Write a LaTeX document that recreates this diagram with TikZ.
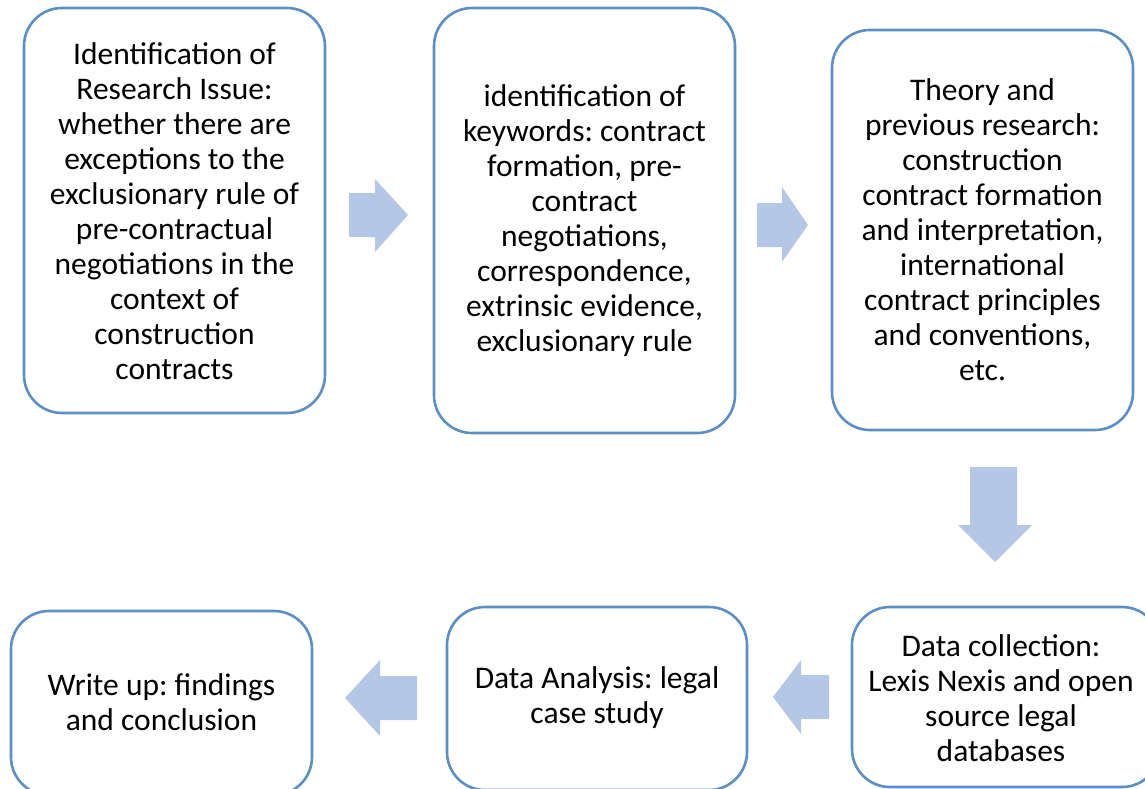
\documentclass[tikz,border=0pt]{standalone}
\usepackage{fontspec}
\setmainfont{Carlito}
\frenchspacing
\definecolor{boxline}{HTML}{5B8FC7}
\definecolor{arrowfill}{HTML}{B4C7E7}
\begin{document}
\begin{tikzpicture}[x=1pt,y=-1pt,
  stepbox/.style={draw=boxline, line width=2.6pt, rounded corners=38pt, fill=white},
  boxtext/.style={align=center, font=\fontsize{31.5}{35}\selectfont, inner sep=0pt},
  blockarrow/.style={fill=arrowfill, draw=none}]
\useasboundingbox (0,0) rectangle (1145,788);
% boxes
\draw[stepbox] (24,8) rectangle (325,413);
\draw[stepbox] (434,8) rectangle (735,433);
\draw[stepbox] (832,30) rectangle (1133,430);
\draw[stepbox] (852,607) rectangle (1160,787);
\draw[stepbox] (447,607) rectangle (747,790);
\draw[stepbox] (11,611) rectangle (312,795);
% texts
\node[boxtext] (b1) at (174.5,211) {Identification of\\Research Issue:\\whether there are\\exceptions to the\\exclusionary rule of\\pre-contractual\\negotiations in the\\context of\\construction\\contracts};
\node[boxtext] (b2) at (584.5,221) {identification of\\keywords: contract\\formation, pre-\\contract\\negotiations,\\correspondence,\\extrinsic evidence,\\exclusionary rule};
\node[boxtext] (b3) at (982.5,230) {Theory and\\previous research:\\construction\\contract formation\\and interpretation,\\international\\contract principles\\and conventions,\\etc.};
\node[boxtext] (b4) at (1001,698) {Data collection:\\Lexis Nexis and open\\source legal\\databases};
\node[boxtext] (b5) at (597,698) {Data Analysis: legal\\case study};
\node[boxtext] (b6) at (161.5,702) {Write up: findings\\and conclusion};
% block arrows
\fill[blockarrow] (349,193) -- (375,193) -- (375,179) -- (408,215) -- (375,252) -- (375,237) -- (349,237) -- cycle;
\fill[blockarrow] (757,203) -- (782,203) -- (782,187) -- (808,225) -- (782,262) -- (782,247) -- (757,247) -- cycle;
\fill[blockarrow] (970,467) -- (1017,467) -- (1017,525) -- (1032,525) -- (995,562) -- (958,525) -- (970,525) -- cycle;
\fill[blockarrow] (829,675) -- (801,675) -- (801,660) -- (773,697) -- (801,734) -- (801,719) -- (829,719) -- cycle;
\fill[blockarrow] (417,676) -- (380,676) -- (380,660) -- (345,698) -- (380,736) -- (380,720) -- (417,720) -- cycle;
\end{tikzpicture}
\end{document}
